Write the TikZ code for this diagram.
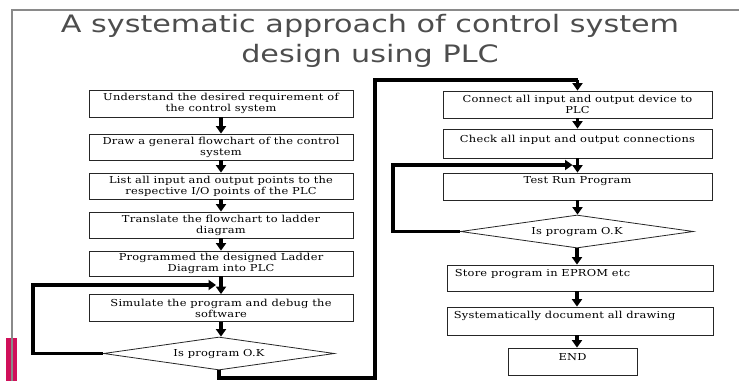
\documentclass[tikz,border=0pt]{standalone}
\usepackage{fontspec}
\setmainfont{DejaVu Serif}
\newfontfamily\titlefont{DejaVu Sans}
\newfontfamily\boxfont[LetterSpace=2]{DejaVu Serif}
\usetikzlibrary{arrows.meta,shapes.geometric}
\definecolor{framegray}{HTML}{8A8A8A}
\definecolor{titlegray}{HTML}{4D4D4D}
\definecolor{barred}{HTML}{D0105A}
\newcommand{\wtxt}[1]{\scalebox{1.19}[1]{#1}}
\newcommand{\wtitle}[1]{\scalebox{1.26}[1]{#1}}
\begin{document}
\begin{tikzpicture}[x=1pt,y=-1pt,
  stepbox/.style={draw=black!85,line width=0.8pt,rectangle,inner sep=0pt},
  decide/.style={draw=black!85,line width=0.8pt,diamond,inner sep=0pt},
  txt/.style={font=\boxfont\fontsize{9.6}{11}\selectfont,align=center,inner sep=0pt},
  ttl/.style={font=\titlefont\fontsize{24}{24}\selectfont,text=titlegray,anchor=base,inner sep=0pt},
  flow/.style={line width=3.3pt,-{Triangle[width=10pt,length=7.5pt]}},
  loopline/.style={line width=3.3pt}
]
\useasboundingbox (0,0) rectangle (739,381);
% frame
\fill[barred] (6,338) rectangle (17,381);
\draw[framegray,line width=1.1pt] (12,381) -- (12,10) -- (739,10);
% title
\node[ttl] (t1) at (370,32) {\wtitle{A systematic approach of control system}};
\node[ttl] (t2) at (370,62) {\wtitle{design using PLC}};
% left column
\node[stepbox,minimum width=264pt,minimum height=27pt] (b1) at (221,103.5) {};
\node[stepbox,minimum width=264pt,minimum height=26pt] (b2) at (221,147) {};
\node[stepbox,minimum width=264pt,minimum height=26pt] (b3) at (221,186) {};
\node[stepbox,minimum width=264pt,minimum height=26pt] (b4) at (221,225) {};
\node[stepbox,minimum width=264pt,minimum height=25pt] (b5) at (221,263.5) {};
\node[stepbox,minimum width=264pt,minimum height=27pt] (b6) at (221,308) {};
\node[decide,minimum width=231pt,minimum height=33pt] (d1) at (219,353.5) {};
\node[txt] (tb1) at (b1.center) {\wtxt{Understand the desired requirement of}\\\wtxt{the control system}};
\node[txt] (tb2) at (b2.center) {\wtxt{Draw a general flowchart of the control}\\\wtxt{system}};
\node[txt] (tb3) at (b3.center) {\wtxt{List all input and output points to the}\\\wtxt{respective I/O points of the PLC}};
\node[txt] (tb4) at (b4.center) {\wtxt{Translate the flowchart to ladder}\\\wtxt{diagram}};
\node[txt] (tb5) at (b5.center) {\wtxt{Programmed the designed Ladder}\\\wtxt{Diagram into PLC}};
\node[txt] (tb6) at (b6.center) {\wtxt{Simulate the program and debug the}\\\wtxt{software}};
\node[txt] (td1) at (d1.center) {\wtxt{Is program O.K}};
% right column
\node[stepbox,minimum width=269pt,minimum height=27pt] (r1) at (577.5,104.5) {};
\node[stepbox,minimum width=269pt,minimum height=29pt] (r2) at (577.5,143.5) {};
\node[stepbox,minimum width=269pt,minimum height=27pt] (r3) at (577.5,186.5) {};
\node[decide,minimum width=233pt,minimum height=33pt] (d2) at (577,231.5) {};
\node[stepbox,minimum width=266pt,minimum height=26pt] (r4) at (580,278) {};
\node[stepbox,minimum width=266pt,minimum height=28pt] (r5) at (580,321) {};
\node[stepbox,minimum width=129pt,minimum height=27pt] (r6) at (572.5,361.5) {};
\node[txt] (tr1) at (r1.center) {\wtxt{Connect all input and output device to}\\\wtxt{PLC}};
\node[txt] (tr2) at ([yshift=4pt]r2.center) {\wtxt{Check all input and output connections}};
\node[txt] (tr3) at ([yshift=5pt]r3.center) {\wtxt{Test Run Program}};
\node[txt] (td2) at (d2.center) {\wtxt{Is program O.K}};
\node[txt,anchor=west] (tr4) at ([xshift=8pt,yshift=4pt]r4.west) {\wtxt{Store program in EPROM etc}};
\node[txt,anchor=west] (tr5) at ([xshift=7pt,yshift=5pt]r5.west) {\wtxt{Systematically document all drawing}};
\node[txt] (tr6) at ([yshift=4pt]r6.center) {\wtxt{END}};
% arrows left column
\draw[flow] (b1.south) -- (b2.north);
\draw[flow] (b2.south) -- (b3.north);
\draw[flow] (b3.south) -- (b4.north);
\draw[flow] (b4.south) -- (b5.north);
\draw[flow] (b5.south) -- (b6.north);
\draw[flow] (b6.south) -- (b6.south |- d1.north);
\coordinate (j1) at (216,285);
\draw[flow] (d1.west) -- (33,353.5) -- (33,285) -- (j1);
% connector to right column
\coordinate (c1) at (219,378);
\coordinate (c2) at (375,378);
\coordinate (c3) at (375,80);
\coordinate (c4) at (577.5,80);
\draw[loopline] (d1.south) -- (c1) -- (c2) -- (c3) -- (c4);
\draw[flow] (c4) -- (r1.north);
% arrows right column
\draw[flow] (r1.south) -- (r2.north);
\draw[flow] (r2.south) -- (r3.north);
\coordinate (j2) at (572.5,165);
\draw[flow] (d2.west) -- (393,231.5) -- (393,165) -- (j2);
\draw[flow] (r3.south) -- (r3.south |- d2.north);
\draw[flow] (d2.south) -- (d2.south |- r4.north);
\draw[flow] (d2.south |- r4.south) -- (d2.south |- r5.north);
\draw[flow] (d2.south |- r5.south) -- (d2.south |- r6.north);
\end{tikzpicture}
\end{document}
